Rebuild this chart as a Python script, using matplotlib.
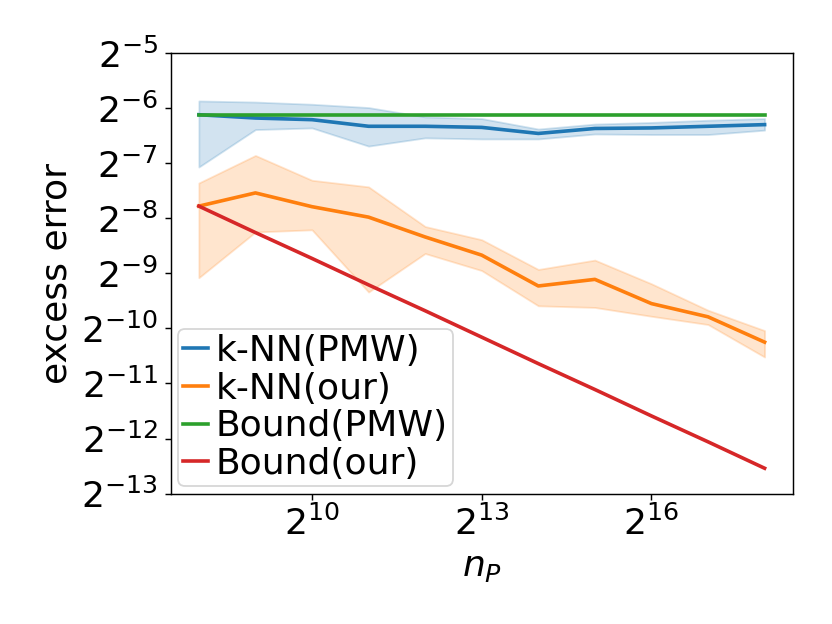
import numpy as np
import matplotlib
matplotlib.use("Agg")
import matplotlib.pyplot as plt

# exponents of n_P (base 2)
log_n = [8, 9, 10, 11, 12, 13, 14, 15, 16, 17, 18]

# excess error, given as log2 values
knn_pmw = [-6.12, -6.18, -6.21, -6.33, -6.33, -6.35, -6.46, -6.37, -6.36, -6.33, -6.30]
knn_pmw_hi = [-5.87, -5.89, -5.93, -5.99, -6.16, -6.19, -6.38, -6.29, -6.26, -6.22, -6.19]
knn_pmw_lo = [-7.07, -6.39, -6.36, -6.69, -6.54, -6.56, -6.56, -6.47, -6.48, -6.48, -6.40]

knn_our = [-7.78, -7.54, -7.79, -7.98, -8.34, -8.67, -9.23, -9.11, -9.55, -9.79, -10.25]
knn_our_hi = [-7.36, -6.86, -7.31, -7.43, -8.15, -8.39, -8.93, -8.76, -9.19, -9.67, -10.04]
knn_our_lo = [-9.08, -8.25, -8.21, -9.34, -8.64, -8.95, -9.59, -9.62, -9.78, -9.93, -10.52]

bound_pmw = [-6.12, -6.12, -6.12, -6.12, -6.12, -6.12, -6.12, -6.12, -6.12, -6.12, -6.12]
bound_our = [-7.78, -8.26, -8.73, -9.21, -9.68, -10.16, -10.64, -11.11, -11.59, -12.06, -12.54]


def p2(v):
    return np.power(2.0, v)


n = p2(np.array(log_n, dtype=float))

fig = plt.figure(figsize=(6.4, 4.8), dpi=130)
ax = fig.add_axes([0.205, 0.209, 0.748, 0.706])

ax.plot(n, p2(knn_pmw), color="tab:blue", lw=2, label="k-NN(PMW)")
ax.fill_between(n, p2(knn_pmw_lo), p2(knn_pmw_hi), color="tab:blue", alpha=0.2)
ax.plot(n, p2(knn_our), color="tab:orange", lw=2, label="k-NN(our)")
ax.fill_between(n, p2(knn_our_lo), p2(knn_our_hi), color="tab:orange", alpha=0.2)
ax.plot(n, p2(bound_pmw), color="tab:green", lw=2, label="Bound(PMW)")
ax.plot(n, p2(bound_our), color="tab:red", lw=2, label="Bound(our)")

ax.set_xscale("log", base=2)
ax.set_yscale("log", base=2)
ax.set_xticks([2**10, 2**13, 2**16])
ax.set_yticks([2.0**k for k in range(-13, -4)])
ax.minorticks_off()
ax.set_ylim(2.0**-13, 2.0**-5)
ax.tick_params(labelsize=20)

ax.set_xlabel("$n_P$", fontsize=20)
ax.set_ylabel("excess error", fontsize=20)
ax.legend(loc="lower left", fontsize=20, handlelength=0.7, handletextpad=0.2,
          borderaxespad=0.2, borderpad=0.15, labelspacing=0.1)

fig.savefig("out.png", dpi=130)
